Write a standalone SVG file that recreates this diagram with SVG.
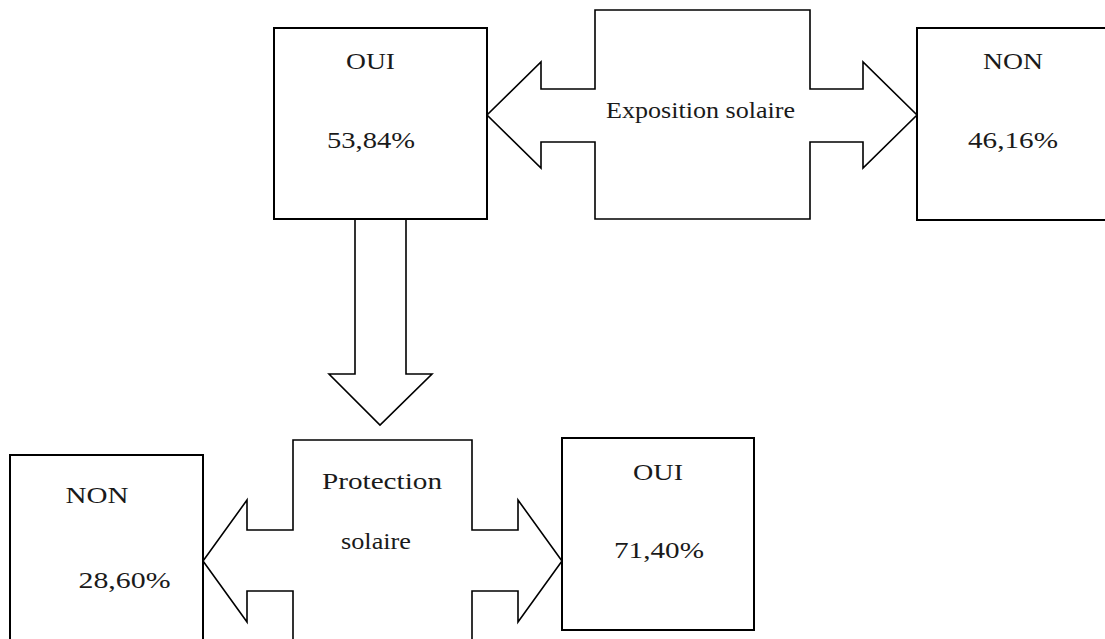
<svg xmlns="http://www.w3.org/2000/svg" width="1105" height="639" viewBox="0 0 1105 639">
<style>
.box{fill:#fff;stroke:#000;stroke-width:2}
.arr{fill:#fff;stroke:#000;stroke-width:1.6;stroke-linejoin:miter}
text{font-family:"Liberation Serif","Times New Roman",serif;font-size:24px;fill:#1a1a1a;text-anchor:middle}
</style>
<rect width="1105" height="639" fill="#fff"/>
<g id="connectors">
<polygon class="arr" points="595,10 810,10 810,89 863,89 863,62 917,115 863,168 863,142 810,142 810,219 595,219 595,142 541,142 541,168 487,115 541,62 541,89 595,89"/>
<polygon class="arr" points="355,219 406,219 406,374 432,374 380,425 329,374 355,374"/>
<polygon class="arr" points="293,440 472,440 472,530 518,530 518,500 562,561 518,622 518,591 472,591 472,660 293,660 293,591 247,591 247,622 203,561 247,500 247,530 293,530"/>
<text x="700.5" y="118" textLength="189" lengthAdjust="spacingAndGlyphs">Exposition solaire</text>
<text x="382" y="489" textLength="120" lengthAdjust="spacingAndGlyphs">Protection</text>
<text x="376" y="549" textLength="70" lengthAdjust="spacingAndGlyphs">solaire</text>
</g>
<g id="oui-top">
<rect class="box" x="274" y="28" width="213" height="191"/>
<text x="370.5" y="69" textLength="49" lengthAdjust="spacingAndGlyphs">OUI</text>
<text x="371" y="148" textLength="88" lengthAdjust="spacingAndGlyphs">53,84%</text>
</g>
<g id="non-top">
<rect class="box" x="917" y="28" width="200" height="192"/>
<text x="1013" y="69" textLength="60" lengthAdjust="spacingAndGlyphs">NON</text>
<text x="1013" y="148" textLength="90" lengthAdjust="spacingAndGlyphs">46,16%</text>
</g>
<g id="non-bottom">
<rect class="box" x="10" y="455" width="193" height="200"/>
<text x="97" y="503" textLength="63" lengthAdjust="spacingAndGlyphs">NON</text>
<text x="124.5" y="588" textLength="92" lengthAdjust="spacingAndGlyphs">28,60%</text>
</g>
<g id="oui-bottom">
<rect class="box" x="562" y="438" width="192" height="192"/>
<text x="658" y="480" textLength="50" lengthAdjust="spacingAndGlyphs">OUI</text>
<text x="659" y="558" textLength="90" lengthAdjust="spacingAndGlyphs">71,40%</text>
</g>
</svg>
